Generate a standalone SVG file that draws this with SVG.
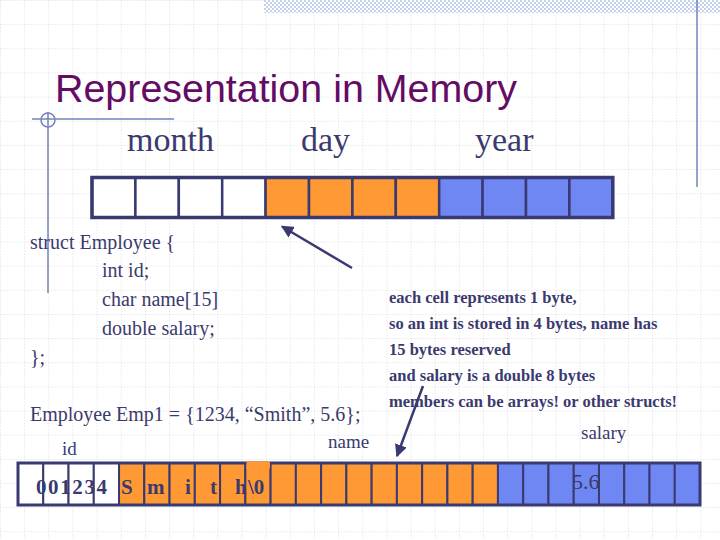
<svg xmlns="http://www.w3.org/2000/svg" width="720" height="540" viewBox="0 0 720 540">
<defs>
<pattern id="grid" patternUnits="userSpaceOnUse" x="0" y="0" width="24.15" height="24.15">
<line x1="0" y1="0" x2="24.15" y2="0" stroke="#cfcfd6" stroke-width="1" stroke-dasharray="1.5,1.5"/>
<line x1="0" y1="0" x2="0" y2="24.15" stroke="#cfcfd6" stroke-width="1" stroke-dasharray="1.5,1.5"/>
</pattern>
<pattern id="check" patternUnits="userSpaceOnUse" width="4" height="4">
<rect width="4" height="4" fill="#ffffff"/>
<rect width="2" height="2" fill="#c4d2ec"/>
<rect x="2" y="2" width="2" height="2" fill="#c4d2ec"/>
</pattern>
<marker id="arr" viewBox="0 0 10 10" refX="9" refY="5" markerWidth="5" markerHeight="5" orient="auto" markerUnits="strokeWidth">
<path d="M0,0 L10,5 L0,10 z" fill="#3a3a72"/>
</marker>
<style>
.cell { stroke: #3a3a72; stroke-width: 2.5; }
.cellb { stroke: #3a3a72; stroke-width: 2; }
.w { fill: #ffffff; }
.o { fill: #ff9933; }
.b { fill: #6f87f2; }
.lbl { font-family: "Liberation Serif", "Times New Roman", serif; fill: #3a3a6e; }
.code { font-family: "Liberation Serif", "Times New Roman", serif; font-size: 20px; fill: #3a3a6e; }
.note { font-family: "Liberation Serif", "Times New Roman", serif; font-size: 16.5px; font-weight: bold; fill: #3a3a6e; }
.deco { stroke: #7383bb; stroke-width: 1.5; fill: none; }
</style>
</defs>
<rect width="720" height="540" fill="#ffffff"/>
<rect width="720" height="540" fill="url(#grid)"/>
<rect x="264" y="0" width="456" height="13" fill="url(#check)"/>
<line x1="697" y1="0" x2="697" y2="187" class="deco"/>
<line x1="32" y1="119" x2="174" y2="119" class="deco"/>
<line x1="48" y1="112" x2="48" y2="293" class="deco"/>
<circle cx="48" cy="120" r="7" class="deco"/>

<text id="title" x="55" y="102" font-family="Liberation Sans, Arial, sans-serif" font-size="39" fill="#640c64" textLength="462" lengthAdjust="spacingAndGlyphs">Representation in Memory</text>

<g id="top-labels" class="lbl" font-size="34">
<text x="127" y="151">month</text>
<text x="301" y="151">day</text>
<text x="475" y="151">year</text>
</g>

<g id="top-row">
<rect class="cell w" x="92" y="177.5" width="43.4" height="40"/>
<rect class="cell w" x="135.4" y="177.5" width="43.4" height="40"/>
<rect class="cell w" x="178.8" y="177.5" width="43.4" height="40"/>
<rect class="cell w" x="222.2" y="177.5" width="43.4" height="40"/>
<rect class="cell o" x="265.6" y="177.5" width="43.4" height="40"/>
<rect class="cell o" x="309" y="177.5" width="43.4" height="40"/>
<rect class="cell o" x="352.4" y="177.5" width="43.4" height="40"/>
<rect class="cell o" x="395.8" y="177.5" width="43.4" height="40"/>
<rect class="cell b" x="439.2" y="177.5" width="43.4" height="40"/>
<rect class="cell b" x="482.6" y="177.5" width="43.4" height="40"/>
<rect class="cell b" x="526" y="177.5" width="43.4" height="40"/>
<rect class="cell b" x="569.4" y="177.5" width="43.4" height="40"/>
<rect x="92" y="177.5" width="520.8" height="40" fill="none" stroke="#3a3a72" stroke-width="3.5"/>
</g>

<g id="struct-code" class="code">
<text x="30" y="249">struct Employee {</text>
<text x="102" y="277">int id;</text>
<text x="102" y="306">char name[15]</text>
<text x="102" y="335">double salary;</text>
<text x="30" y="364">};</text>
<text x="30" y="421">Employee Emp1 = {1234, “Smith”, 5.6};</text>
</g>

<g id="note" class="note">
<text x="389" y="303">each cell represents 1 byte,</text>
<text x="389" y="329">so an int is stored in 4 bytes, name has</text>
<text x="389" y="355">15 bytes reserved</text>
<text x="389" y="381">and salary is a double 8 bytes</text>
<text x="389" y="407">members can be arrays! or other structs!</text>
</g>

<g id="bottom-labels" class="lbl" font-size="19">
<text x="62" y="455">id</text>
<text x="328" y="448">name</text>
<text x="581" y="439">salary</text>
</g>

<g id="bottom-row">
<rect class="cellb w" x="18" y="463" width="25.26" height="42"/>
<rect class="cellb w" x="43.26" y="463" width="25.26" height="42"/>
<rect class="cellb w" x="68.52" y="463" width="25.26" height="42"/>
<rect class="cellb w" x="93.78" y="463" width="25.26" height="42"/>
<rect class="cellb o" x="119.04" y="463" width="25.26" height="42"/>
<rect class="cellb o" x="144.3" y="463" width="25.26" height="42"/>
<rect class="cellb o" x="169.56" y="463" width="25.26" height="42"/>
<rect class="cellb o" x="194.82" y="463" width="25.26" height="42"/>
<rect class="cellb o" x="220.08" y="463" width="25.26" height="42"/>
<rect class="cellb o" x="245.34" y="463" width="25.26" height="42"/>
<rect class="cellb o" x="270.6" y="463" width="25.26" height="42"/>
<rect class="cellb o" x="295.86" y="463" width="25.26" height="42"/>
<rect class="cellb o" x="321.12" y="463" width="25.26" height="42"/>
<rect class="cellb o" x="346.38" y="463" width="25.26" height="42"/>
<rect class="cellb o" x="371.64" y="463" width="25.26" height="42"/>
<rect class="cellb o" x="396.9" y="463" width="25.26" height="42"/>
<rect class="cellb o" x="422.16" y="463" width="25.26" height="42"/>
<rect class="cellb o" x="447.42" y="463" width="25.26" height="42"/>
<rect class="cellb o" x="472.68" y="463" width="25.26" height="42"/>
<rect class="cellb b" x="497.94" y="463" width="25.26" height="42"/>
<rect class="cellb b" x="523.2" y="463" width="25.26" height="42"/>
<rect class="cellb b" x="548.46" y="463" width="25.26" height="42"/>
<rect class="cellb b" x="573.72" y="463" width="25.26" height="42"/>
<rect class="cellb b" x="598.98" y="463" width="25.26" height="42"/>
<rect class="cellb b" x="624.24" y="463" width="25.26" height="42"/>
<rect class="cellb b" x="649.5" y="463" width="25.26" height="42"/>
<rect class="cellb b" x="674.76" y="463" width="25.26" height="42"/>
<rect x="18" y="463" width="682" height="42" fill="none" stroke="#3a3a72" stroke-width="3"/>
<rect x="246.5" y="461.5" width="23.5" height="7" fill="#ff9933"/>
</g>

<g id="bottom-values" class="lbl" font-size="21" font-weight="bold">
<text x="36" y="494" textLength="71" lengthAdjust="spacing">001234</text>
<text x="121" y="494">S</text>
<text x="147" y="494">m</text>
<text x="185" y="494">i</text>
<text x="210" y="494">t</text>
<text x="235" y="494">h</text>
<text x="248" y="494">\0</text>
<text x="572" y="489" font-weight="normal" font-size="22">5.6</text>
</g>

<g id="connectors" stroke="#3a3a72" stroke-width="2.5" fill="none">
<line x1="352" y1="268" x2="282" y2="226.5" marker-end="url(#arr)"/>
<line x1="423" y1="386" x2="397" y2="456" marker-end="url(#arr)"/>
</g>
</svg>
